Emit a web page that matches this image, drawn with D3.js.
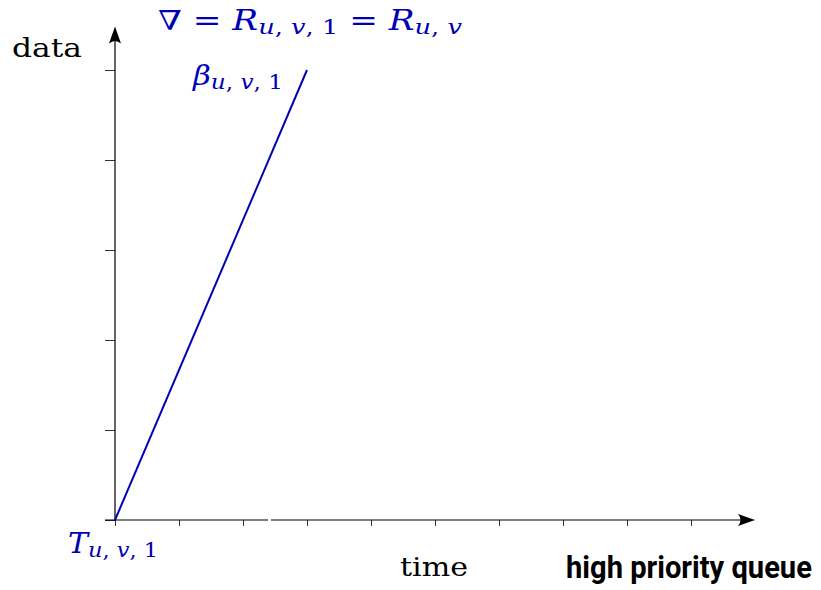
<!DOCTYPE html>
<html><head><meta charset="utf-8">
<script src="https://cdn.jsdelivr.net/npm/d3@7"></script>
<style>body{margin:0;background:#fff}</style>
</head><body>
<svg id="c" width="821" height="590"></svg>
<script>
const xTicks = [0,1,2,3,4,5,6,7,8,9];
const yTicks = [0,1,2,3,4,5];
const lineTime = [0, 3];
const lineData = [0, 5];
const xLabel = "time", yLabel = "data", caption = "high priority queue";

const svg = d3.select("#c");
const blue = "#0000b4";
const x = d3.scaleLinear().domain([0,10]).range([115,755]);
const y = d3.scaleLinear().domain([0,5]).range([520,70]);

// axes
const xa = svg.append("g").attr("transform",`translate(0,${y(0)})`)
  .call(d3.axisBottom(x).tickValues(xTicks).tickSize(6).tickFormat(""));
xa.select(".domain").remove();
xa.selectAll("line").attr("stroke","#333").attr("stroke-width",1);
const ya = svg.append("g").attr("transform",`translate(${x(0)},0)`)
  .call(d3.axisLeft(y).tickValues(yTicks).tickSize(10).tickFormat(""));
ya.select(".domain").remove();
ya.selectAll("line").attr("stroke","#333").attr("stroke-width",1);

svg.append("line").attr("x1",x(0)-10).attr("x2",x(10)-4).attr("y1",y(0)).attr("y2",y(0)).attr("stroke","#000").attr("stroke-width",1.2);
svg.append("line").attr("x1",x(0)).attr("x2",x(0)).attr("y1",y(0)).attr("y2",y(5.45)).attr("stroke","#000").attr("stroke-width",1.2);
// small gap in x-axis
svg.append("rect").attr("x",268).attr("y",y(0)-2).attr("width",3).attr("height",4).attr("fill","#fff");

// arrowheads
const ax = x(10), ay = y(0);
svg.append("path").attr("d",`M${ax},${ay} L${ax-17},${ay-6} Q${ax-12},${ay} ${ax-17},${ay+6} Z`).attr("fill","#000");
const bx = x(0), by = y(5.45)-3;
svg.append("path").attr("d",`M${bx},${by} L${bx-6},${by+17} Q${bx},${by+12} ${bx+6},${by+17} Z`).attr("fill","#000");

// data line
svg.append("path").datum(lineTime.map((t,i)=>[t,lineData[i]]))
  .attr("d",d3.line().x(d=>x(d[0])).y(d=>y(d[1])))
  .attr("stroke",blue).attr("stroke-width",2).attr("fill","none");

const serif = "'DejaVu Serif',serif";
svg.append("text").attr("x",12).attr("y",57).attr("font-family",serif).attr("font-size",26)
  .attr("textLength",70).attr("lengthAdjust","spacingAndGlyphs").text(yLabel);
svg.append("text").attr("x",400).attr("y",576).attr("font-family",serif).attr("font-size",26)
  .attr("textLength",68).attr("lengthAdjust","spacingAndGlyphs").text(xLabel);
const cap = svg.append("text").attr("x",0).attr("y",0).attr("font-family","Roboto,'Open Sans',sans-serif").attr("font-weight","bold")
  .attr("font-size",32).text(caption);
const natural = cap.node().getComputedTextLength();
cap.attr("transform",`translate(566,578) scale(${246/natural},1)`);

function mathText(xp, yp, parts, size, len){
  const t = svg.append("text").attr("x",xp).attr("y",yp).attr("fill",blue).attr("font-family",serif).attr("font-size",size)
    .attr("textLength",len).attr("lengthAdjust","spacingAndGlyphs");
  parts.forEach(p=>{
    const s = t.append("tspan").text(p.t);
    if(p.it) s.attr("font-style","italic");
    if(p.sub) s.attr("font-size",size*0.75).attr("baseline-shift","-20%");
  });
  return t;
}
mathText(158, 30, [{t:"∇ = ",}, {t:"R",it:1},{t:"u",sub:1,it:1},{t:", ",sub:1},{t:"v",sub:1,it:1},{t:", ",sub:1},{t:"1",sub:1},{t:" = "},{t:"R",it:1},{t:"u",sub:1,it:1},{t:", ",sub:1},{t:"v",sub:1,it:1}], 27, 304);
mathText(193, 85, [{t:"β",it:1},{t:"u",sub:1,it:1},{t:", ",sub:1},{t:"v",sub:1,it:1},{t:", ",sub:1},{t:"1",sub:1}], 27, 90);
mathText(68, 553, [{t:"T",it:1},{t:"u",sub:1,it:1},{t:", ",sub:1},{t:"v",sub:1,it:1},{t:", ",sub:1},{t:"1",sub:1}], 27, 90);
</script>
</body></html>
